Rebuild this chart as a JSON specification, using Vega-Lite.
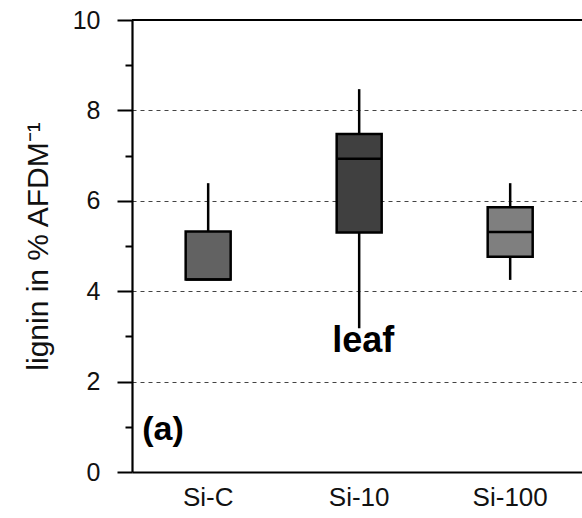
{
  "$schema": "https://vega.github.io/schema/vega-lite/v6.json",
  "width": 450,
  "height": 452,
  "autosize": "none",
  "padding": {"left": 132, "top": 20, "right": 0, "bottom": 46},
  "background": "white",
  "config": {
    "view": {"stroke": null},
    "font": "Liberation Sans"
  },
  "datasets": {
    "boxes": [
      {"group": "Si-C", "min": 4.26, "q1": 4.26, "median": 4.26, "q3": 5.32, "max": 6.39},
      {"group": "Si-10", "min": 3.18, "q1": 5.3, "median": 6.93, "q3": 7.48, "max": 8.47},
      {"group": "Si-100", "min": 4.25, "q1": 4.76, "median": 5.31, "q3": 5.86, "max": 6.39}
    ],
    "labels": [
      {"group": "Si-10", "y": 2.65, "text": "leaf", "kind": "leaf"},
      {"group": "Si-C", "y": 0.7, "text": "(a)", "kind": "panel"}
    ],
    "frame": [{"y": 10}]
  },
  "encoding": {
    "x": {
      "field": "group",
      "type": "nominal",
      "sort": ["Si-C", "Si-10", "Si-100"],
      "scale": {"type": "band", "domain": ["Si-C", "Si-10", "Si-100"], "paddingInner": 0.5, "paddingOuter": 0.24, "align": 0.53},
      "axis": {
        "title": null,
        "labelAngle": 0,
        "ticks": false,
        "tickSize": 0,
        "labelPadding": 12,
        "labelFontSize": 26,
        "labelColor": "#111111",
        "domainColor": "#000000",
        "domainWidth": 2.2,
        "grid": false
      }
    }
  },
  "layer": [
    {
      "data": {"name": "frame"},
      "mark": {"type": "rule", "color": "#000000", "strokeWidth": 2.2},
      "encoding": {
        "x": null,
        "y": {"field": "y", "type": "quantitative", "scale": {"domain": [0, 10]}}
      }
    },
    {
      "data": {"name": "boxes"},
      "mark": {"type": "rule", "color": "#000000", "strokeWidth": 2.5},
      "encoding": {
        "y": {
          "field": "min",
          "type": "quantitative",
          "scale": {"domain": [0, 10], "nice": false},
          "axis": {
            "title": "lignin in % AFDM⁻¹",
            "titleFontSize": 30,
            "titleFontWeight": "normal",
            "titleColor": "#111111",
            "titlePadding": 19,
            "values": [0, 1, 2, 3, 4, 5, 6, 7, 8, 9, 10],
            "labelExpr": "datum.value % 2 === 0 ? datum.label : ''",
            "labelFontSize": 25,
            "labelColor": "#111111",
            "labelPadding": 17,
            "tickColor": "#000000",
            "tickWidth": 2,
            "tickSize": {"condition": {"test": "datum.value % 2 === 0", "value": 15}, "value": 7},
            "domainColor": "#000000",
            "domainWidth": 2.2,
            "grid": true,
            "gridColor": "#444444",
            "gridWidth": 1.2,
            "gridDash": [4, 4],
            "gridOpacity": {"condition": {"test": "datum.value % 2 === 0 && datum.value > 0 && datum.value < 10", "value": 1}, "value": 0}
          }
        },
        "y2": {"field": "max"}
      }
    },
    {
      "data": {"name": "boxes"},
      "mark": {"type": "bar", "size": 45, "stroke": "#000000", "strokeWidth": 2.5},
      "encoding": {
        "y": {"field": "q1", "type": "quantitative"},
        "y2": {"field": "q3"},
        "fill": {
          "field": "group",
          "type": "nominal",
          "scale": {"domain": ["Si-C", "Si-10", "Si-100"], "range": ["#626262", "#404040", "#7f7f7f"]},
          "legend": null
        }
      }
    },
    {
      "data": {"name": "boxes"},
      "mark": {"type": "tick", "size": 45, "thickness": 2.5, "color": "#000000", "opacity": 1},
      "encoding": {
        "y": {"field": "median", "type": "quantitative"}
      }
    },
    {
      "data": {"name": "labels"},
      "transform": [{"filter": "datum.kind === 'leaf'"}],
      "mark": {"type": "text", "fontSize": 36, "fontWeight": "bold", "align": "center", "baseline": "alphabetic", "dx": 4, "color": "#000000"},
      "encoding": {
        "y": {"field": "y", "type": "quantitative"},
        "text": {"field": "text"}
      }
    },
    {
      "data": {"name": "labels"},
      "transform": [{"filter": "datum.kind === 'panel'"}],
      "mark": {"type": "text", "fontSize": 34, "fontWeight": "bold", "align": "left", "baseline": "alphabetic", "dx": -66, "color": "#000000"},
      "encoding": {
        "y": {"field": "y", "type": "quantitative"},
        "text": {"field": "text"}
      }
    }
  ]
}
